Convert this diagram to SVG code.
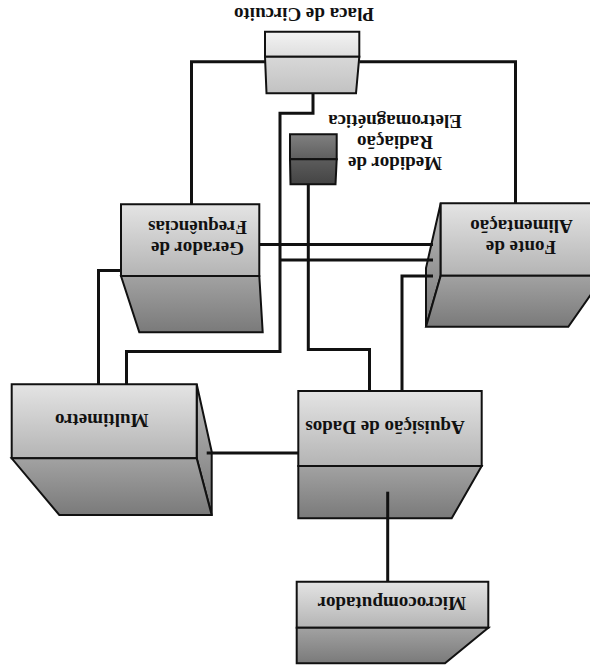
<svg xmlns="http://www.w3.org/2000/svg" width="590" height="668" viewBox="0 0 590 668">
<defs>
<linearGradient id="gUp" x1="0" y1="0" x2="0" y2="1"><stop offset="0" stop-color="#e4e4e4"/><stop offset="1" stop-color="#b4b4b4"/></linearGradient>
<linearGradient id="gLow" x1="0" y1="0" x2="0" y2="1"><stop offset="0" stop-color="#a2a2a2"/><stop offset="1" stop-color="#7a7a7a"/></linearGradient>
<linearGradient id="gSide" x1="0" y1="0" x2="0" y2="1"><stop offset="0" stop-color="#bcbcbc"/><stop offset="1" stop-color="#767676"/></linearGradient>
<linearGradient id="gPUp" x1="0" y1="0" x2="0" y2="1"><stop offset="0" stop-color="#f3f3f3"/><stop offset="1" stop-color="#dedede"/></linearGradient>
<linearGradient id="gPLow" x1="0" y1="0" x2="0" y2="1"><stop offset="0" stop-color="#d8d8d8"/><stop offset="1" stop-color="#c2c2c2"/></linearGradient>
<linearGradient id="gMUp" x1="0" y1="0" x2="0" y2="1"><stop offset="0" stop-color="#808080"/><stop offset="1" stop-color="#5e5e5e"/></linearGradient>
<linearGradient id="gMLow" x1="0" y1="0" x2="0" y2="1"><stop offset="0" stop-color="#5c5c5c"/><stop offset="1" stop-color="#444444"/></linearGradient>
</defs>
<style>
.box{stroke:#111;stroke-width:2;stroke-linejoin:miter}
.up{fill:url(#gUp)}
.low{fill:url(#gLow)}
.side{fill:url(#gSide)}
.t{font-family:"Liberation Serif","Times New Roman",serif;font-weight:bold;font-size:19px;fill:#111;text-anchor:middle}
.w{fill:none;stroke:#111;stroke-width:3;stroke-linejoin:miter}
</style>
<rect width="590" height="668" fill="#ffffff"/>

<g id="placa">
<polygon class="box" style="fill:url(#gPUp)" points="265,31.7 359.3,31.7 359.3,56.7 265,56.7"/>
<polygon class="box" style="fill:url(#gPLow)" points="265,56.7 359.3,56.7 356,93.3 266.5,93.3"/>
<text class="t" transform="translate(304,14.5) rotate(180)" y="6.5">Placa de Circuito</text>
</g>

<g id="medidor">
<polygon class="box" style="fill:url(#gMUp)" points="290,134.3 336.7,134.3 336.7,159.3 290,159.3"/>
<polygon class="box" style="fill:url(#gMLow)" points="290,159.3 336.7,159.3 335.5,184.3 290.5,184.3"/>
<text class="t" transform="translate(395,121) rotate(180)" y="6.5">Eletromagnética</text>
<text class="t" transform="translate(395,142.5) rotate(180)" y="6.5">Radiação</text>
<text class="t" transform="translate(395,163.5) rotate(180)" y="6.5">Medidor de</text>
</g>

<g id="gerador">
<polygon class="box up" points="121,204.3 259.3,204.3 259.3,276 121,276"/>
<polygon class="box low" points="121,276 259.3,276 262.7,332.3 139.3,332.3"/>
<text class="t" transform="translate(197.5,227.5) rotate(180)" y="6.5">Frequências</text>
<text class="t" transform="translate(197.5,248.5) rotate(180)" y="6.5">Gerador de</text>
</g>

<g id="fonte">
<polygon class="box side" points="440.7,203.3 426,268 426,326.7 440.7,275.7"/>
<polygon class="box up" points="440.7,203.3 604,203.3 604,275.7 440.7,275.7"/>
<polygon class="box low" points="440.7,275.7 604,275.7 568.3,326.7 426,326.7"/>
<text class="t" transform="translate(521.5,226.7) rotate(180)" y="6.5">Alimentação</text>
<text class="t" transform="translate(521,247) rotate(180)" y="6.5">Fonte de</text>
</g>

<g id="multimetro">
<polygon class="box side" points="196.7,384.3 211.7,451.7 211.7,515 196.7,458.3"/>
<polygon class="box up" points="11.7,384.3 196.7,384.3 196.7,458.3 11.7,458.3"/>
<polygon class="box low" points="11.7,458.3 196.7,458.3 211.7,515 59.3,515"/>
<text class="t" transform="translate(101.7,420) rotate(180)" y="6.5">Multimetro</text>
</g>

<g id="aquisicao">
<polygon class="box up" points="298.3,391 481.7,391 481.7,466 298.3,466"/>
<polygon class="box low" points="298.3,466 481.7,466 451.7,518.3 298.3,518.3"/>
<text class="t" transform="translate(385,427) rotate(180)" y="6.5">Aquisição de Dados</text>
</g>

<g id="micro">
<polygon class="box up" points="296.7,581.7 488.3,581.7 488.3,627.7 296.7,627.7"/>
<polygon class="box low" points="296.7,627.7 488.3,627.7 445,663.3 296.7,663.3"/>
<text class="t" transform="translate(391.7,603.7) rotate(180)" y="6.5">Microcomputador</text>
</g>

<g id="connectors">
<path class="w" d="M265,61.7 H191.5 V204.3"/>
<path class="w" d="M359.3,61.7 H515.5 V203.3"/>
<path class="w" d="M313,93.3 V113.3 H280 V351.5 H126.5 V384.3"/>
<path class="w" d="M308.3,184.3 V349.5 H369.5 V391"/>
<path class="w" d="M259.3,244.5 H433"/>
<path class="w" d="M280,260 H433"/>
<path class="w" d="M433,276 H402 V391"/>
<path class="w" d="M121,270.5 H98.5 V384.3"/>
<path class="w" d="M206.7,453 H298.3"/>
<path class="w" d="M387.7,491.7 V581.7"/>
</g>
</svg>
